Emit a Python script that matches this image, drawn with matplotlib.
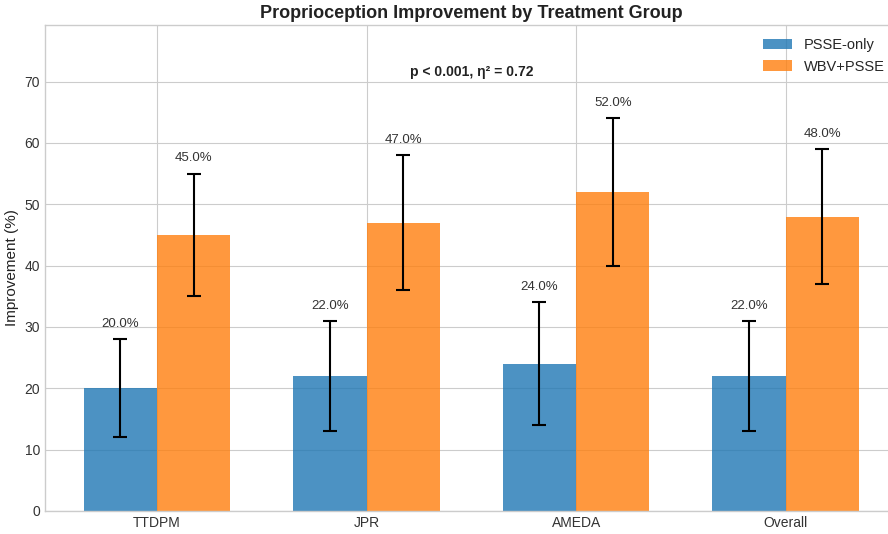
import numpy as np
import matplotlib
matplotlib.use('Agg')
import matplotlib.pyplot as plt

plt.style.use('seaborn-v0_8-whitegrid')
plt.rcParams['font.family'] = ['Liberation Sans', 'DejaVu Sans']

measures = ['TTDPM', 'JPR', 'AMEDA', 'Overall']
psse_only = [20, 22, 24, 22]
psse_err = [8, 9, 10, 9]
wbv_psse = [45, 47, 52, 48]
wbv_err = [10, 11, 12, 11]

x = np.arange(len(measures))
width = 0.35

fig = plt.figure(figsize=(8.88, 5.34), dpi=100)
ax = fig.add_axes([0.0507, 0.0431, 0.9603, 0.9099])

ax.bar(x - width / 2, psse_only, width, yerr=psse_err, capsize=5,
       label='PSSE-only', color='#1f77b4', alpha=0.8,
       error_kw=dict(ecolor='black', elinewidth=1.5, capthick=1.5))
ax.bar(x + width / 2, wbv_psse, width, yerr=wbv_err, capsize=5,
       label='WBV+PSSE', color='#ff7f0e', alpha=0.8,
       error_kw=dict(ecolor='black', elinewidth=1.5, capthick=1.5))

# value labels above the error bars
for xi, h, e in zip(x - width / 2, psse_only, psse_err):
    ax.text(xi, h + e + 1.5, f'{h:.1f}%', ha='center', va='bottom', fontsize=9.5, color='#333333')
for xi, h, e in zip(x + width / 2, wbv_psse, wbv_err):
    ax.text(xi, h + e + 1.5, f'{h:.1f}%', ha='center', va='bottom', fontsize=9.5, color='#333333')

ax.text(1.5, 71.5, 'p < 0.001, η² = 0.72', ha='center', va='center',
        fontsize=10, fontweight='bold', color='#222222')

ax.set_title('Proprioception Improvement by Treatment Group', fontsize=13,
             fontweight='bold', color='#222222', pad=5)
ax.set_ylabel('Improvement (%)', fontsize=11, color='#222222')
ax.set_xticks(x)
ax.set_xticklabels(measures)
ax.tick_params(labelsize=10, colors='#333333')
ax.set_ylim(0, 79.2)
ax.set_xlim(-0.535, 3.535)
ax.legend(loc='upper right', fontsize=10.5, frameon=False)

for s in ax.spines.values():
    s.set_color('#cccccc')
ax.spines['right'].set_visible(False)

plt.savefig('out.png', dpi=100)
